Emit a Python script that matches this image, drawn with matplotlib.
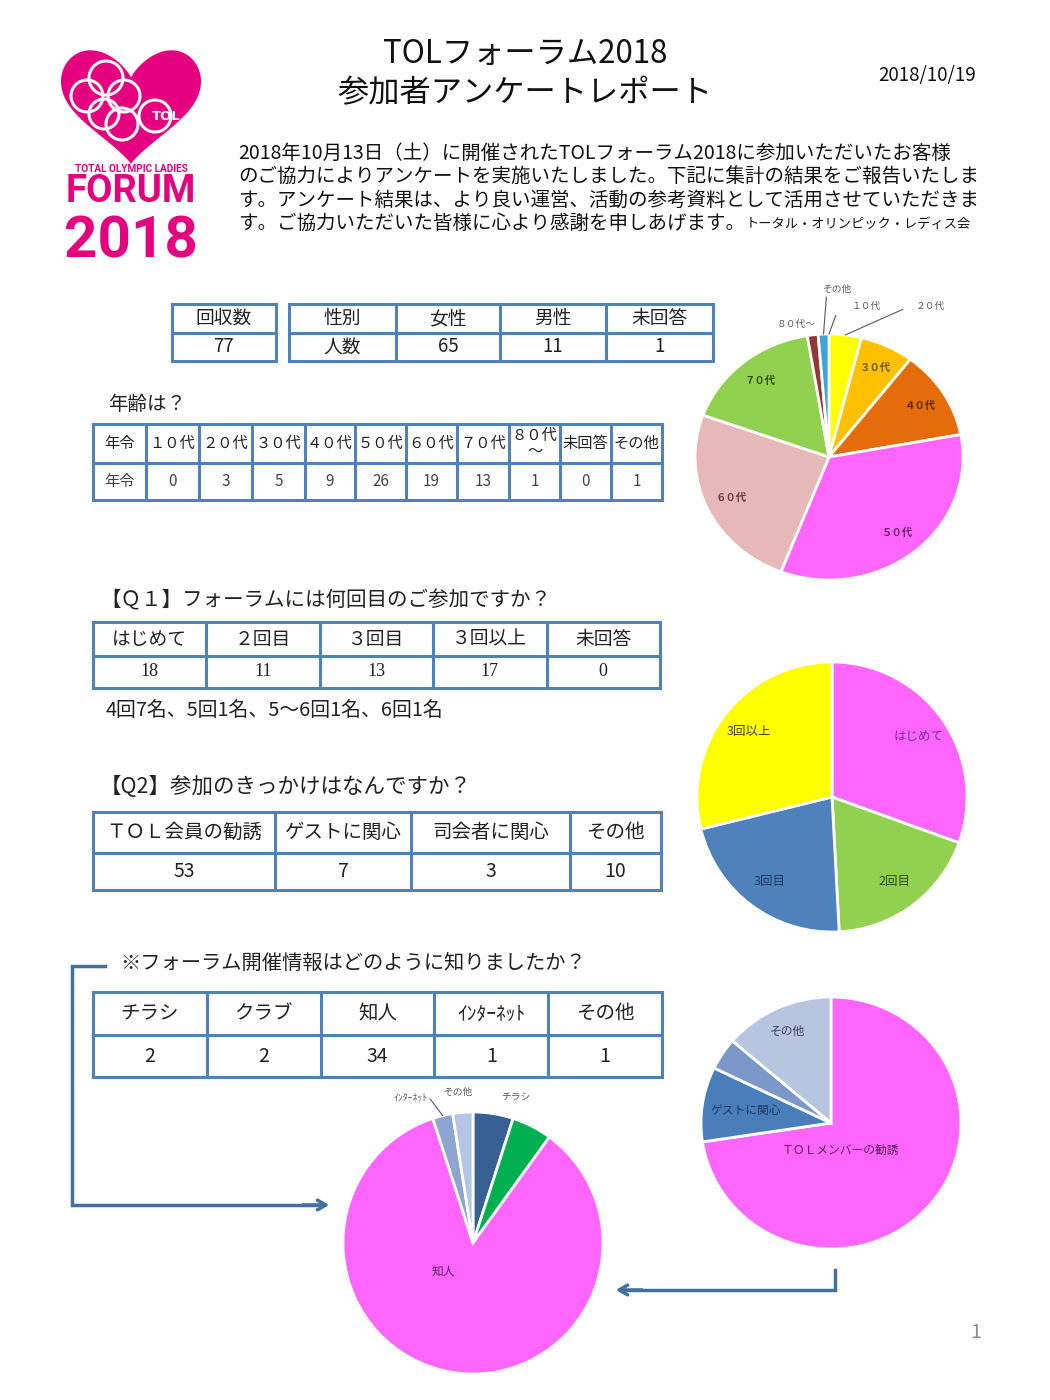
import numpy as np
import matplotlib
matplotlib.use('Agg')
import matplotlib.pyplot as plt
from matplotlib.patches import Polygon, Circle

plt.rcParams['font.family'] = ['Noto Sans CJK JP', 'DejaVu Sans']

# ---- data ----
total_label = '回収数'
total_responses = 77
gender_labels = ['性別', '女性', '男性', '未回答']
gender_counts = ['人数', 65, 11, 1]

age_labels = ['１０代', '２０代', '３０代', '４０代', '５０代', '６０代', '７０代', '８０代\n～', '未回答', 'その他']
age_counts = [0, 3, 5, 9, 26, 19, 13, 1, 0, 1]

q1_labels = ['はじめて', '２回目', '３回目', '３回以上', '未回答']
q1_counts = [18, 11, 13, 17, 0]
q1_note = '4回7名、5回1名、5～6回1名、6回1名'

q2_labels = ['ＴＯＬ会員の勧誘', 'ゲストに関心', '司会者に関心', 'その他']
q2_counts = [53, 7, 3, 10]

info_labels = ['チラシ', 'クラブ', '知人', 'ｲﾝﾀｰﾈｯﾄ', 'その他']
info_counts = [2, 2, 34, 1, 1]

W, H = 1050, 1400
BORDER = '#4F81BD'
ARROW = '#41719C'
PINK = '#E4007F'

fig = plt.figure(figsize=(10.5, 14), dpi=100)
ax = fig.add_axes([0, 0, 1, 1])
ax.set_xlim(0, W)
ax.set_ylim(H, 0)
ax.axis('off')


def draw_table(xs, ys, rows, sizes, families=None, colors=None):
    for x in xs:
        ax.plot([x, x], [ys[0], ys[-1]], color=BORDER, lw=2.2, solid_capstyle='projecting')
    for y in ys:
        ax.plot([xs[0], xs[-1]], [y, y], color=BORDER, lw=2.2, solid_capstyle='projecting')
    for r, row in enumerate(rows):
        fam = families[r] if families else None
        col = colors[r] if colors else '#222222'
        for c, val in enumerate(row):
            cx = (xs[c] + xs[c + 1]) / 2
            cy = (ys[r] + ys[r + 1]) / 2
            kw = {}
            if fam:
                kw['family'] = fam
            ax.text(cx, cy, str(val), ha='center', va='center', fontsize=sizes[r],
                    color=col, linespacing=0.9, **kw)


def pie_axes(cx, cy, rx, ry):
    a = fig.add_axes([(cx - rx) / W, 1 - (cy + ry) / H, 2 * rx / W, 2 * ry / H])
    return a


def finish_pie(a):
    a.set_aspect('auto')
    a.set_xlim(-1.0, 1.0)
    a.set_ylim(-1.0, 1.0)
    a.axis('off')


def mid_xy(w, r):
    t = np.deg2rad((w.theta1 + w.theta2) / 2)
    return r * np.cos(t), r * np.sin(t)


# ---- logo ----
t = np.linspace(0, 2 * np.pi, 400)
s = np.sin(t)
hx = 16 * np.sign(s) * np.abs(s) ** 2.3
hy = 13 * np.cos(t) - 5 * np.cos(2 * t) - 2 * np.cos(3 * t) - np.cos(4 * t)
px = 131 + hx * (70 / 16.0)
py = 50 + (12 - hy) * (114 / 29)
ax.add_patch(Polygon(np.column_stack([px, py]), closed=True, color=PINK, lw=0))
for (rx_, ry_, rr) in [(106, 78, 17), (87, 96, 16), (124, 96, 16), (104, 114, 15), (122, 124, 16), (155, 116, 16)]:
    ax.add_patch(Circle((rx_, ry_), rr, fill=False, ec='white', lw=2.2))
ax.text(166, 117, 'TOL', ha='center', va='center', color='white', fontsize=9.5,
        family='DejaVu Sans', weight='bold')
ax.text(131, 169, 'TOTAL OLYMPIC LADIES', ha='center', va='center', color=PINK,
        fontsize=7.2, family='Roboto', weight='bold')
ax.text(131, 191, 'FORUM', ha='center', va='center', color=PINK, fontsize=27.5,
        family='Roboto', weight='bold')
ax.text(131, 242, '2018', ha='center', va='center', color=PINK, fontsize=42,
        family='Roboto', weight='bold')

# ---- header ----
ax.text(525, 54, 'TOLフォーラム2018', ha='center', va='center', fontsize=22.5, color='#111111')
ax.text(525, 93, '参加者アンケートレポート', ha='center', va='center', fontsize=22.5, color='#111111')
ax.text(927, 75, '2018/10/19', ha='center', va='center', fontsize=13.5, color='#111111')

body = ['2018年10月13日（土）に開催されたTOLフォーラム2018に参加いただいたお客様',
        'のご協力によりアンケートを実施いたしました。下記に集計の結果をご報告いたしま',
        'す。アンケート結果は、より良い運営、活動の参考資料として活用させていただきま',
        'す。ご協力いただいた皆様に心より感謝を申しあげます。']
for i, line in enumerate(body):
    ax.text(238, 153 + i * 23.5, line, ha='left', va='center', fontsize=14.0, color='#111111')
ax.text(746, 224, 'トータル・オリンピック・レディス会', ha='left', va='center', fontsize=9.5, color='#111111')

# ---- gender / total tables ----
draw_table([172, 276], [304, 333, 361], [[total_label], [total_responses]], [13.5, 13.5])
draw_table([289, 396, 500, 606, 713], [304, 333, 361], [gender_labels, gender_counts], [13.5, 13.5])

# ---- age table ----
ax.text(108, 405, '年齢は？', ha='left', va='center', fontsize=14, color='#222222')
age_x = [93, 146, 199, 252, 305, 355, 406, 457, 509, 560, 611, 662]
draw_table(age_x, [424, 463, 500], [['年令'] + age_labels, ['年令'] + age_counts],
           [11, 11], colors=['#222222', '#444444'])

# ---- Q1 ----
ax.text(100, 600, '【Ｑ１】フォーラムには何回目のご参加ですか？', ha='left', va='center', fontsize=14.8, color='#222222')
q1_x = list(np.linspace(93, 660, 6))
draw_table(q1_x, [622, 656, 688], [q1_labels, q1_counts], [13.5, 13],
           families=[None, ['Liberation Serif', 'DejaVu Serif']])
ax.text(106, 710, q1_note, ha='left', va='center', fontsize=14.3, color='#222222')

# ---- Q2 ----
ax.text(100, 787, '【Q2】参加のきっかけはなんですか？', ha='left', va='center', fontsize=15.5, color='#222222')
draw_table([93, 275, 411, 570, 661], [812, 853, 890], [q2_labels, q2_counts], [14, 14])

# ---- info ----
ax.text(120, 963, '※フォーラム開催情報はどのように知りましたか？', ha='left', va='center', fontsize=14.6, color='#222222')
draw_table(list(np.linspace(93, 662, 6)), [992, 1035, 1077], [info_labels, info_counts], [14, 14])

# ---- arrows ----
ax.plot([105, 72, 72, 322], [966, 966, 1205, 1205], color=ARROW, lw=2.5, solid_joinstyle='miter')
ax.annotate('', xy=(332, 1205), xytext=(300, 1205),
            arrowprops=dict(arrowstyle='->,head_length=0.6,head_width=0.35', color=ARROW, lw=2.5))
ax.plot([835, 835, 625], [1270, 1290, 1290], color=ARROW, lw=2.5, solid_joinstyle='miter')
ax.annotate('', xy=(613, 1290), xytext=(645, 1290),
            arrowprops=dict(arrowstyle='->,head_length=0.6,head_width=0.35', color=ARROW, lw=2.5))

ax.text(976, 1333, '1', ha='center', va='center', fontsize=14, color='#8C8C8C')

# ---- age pie ----
a1 = pie_axes(829, 457, 134, 123)
age_idx = [0, 1, 2, 3, 4, 5, 6, 7, 9]
age_cols = ['#41A3D9', '#FFFF00', '#FFC000', '#E46C0A', '#FF66FF', '#E6B9B8', '#92D050', '#953735', '#41A3D9']
w1, _ = a1.pie([age_counts[i] for i in age_idx], colors=age_cols, startangle=90, counterclock=False,
               wedgeprops=dict(edgecolor='white', linewidth=2))
finish_pie(a1)
inner_cols = {2: '#6B5A00', 3: '#5A2A00', 4: '#6A1F6A', 5: '#6B3A3A', 6: '#2F4F10'}
for k, col in inner_cols.items():
    x, y = mid_xy(w1[k], 0.8)
    a1.text(x, y, age_labels[age_idx[k]], ha='center', va='center', fontsize=7.5, color=col, weight='bold')
# outside labels with leader lines
outs = [(0, (0.17, 1.23), (0.05, 1.15), '１０代'),
        (1, (0.65, 1.23), (0.55, 1.20), '２０代'),
        (8, (0.06, 1.37), (-0.02, 1.30), 'その他')]
for k, lab_xy, line_end, txt in outs:
    x0, y0 = mid_xy(w1[k], 1.0)
    a1.plot([x0, line_end[0]], [y0, line_end[1]], color='#595959', lw=0.8, clip_on=False)
    a1.text(lab_xy[0], lab_xy[1], txt, ha='left' if k != 8 else 'center', va='center',
            fontsize=7, color='#595959')
a1.text(-0.1, 1.08, '８０代～', ha='right', va='center', fontsize=7, color='#595959')

# ---- Q1 pie ----
a2 = pie_axes(832, 797, 135, 135)
w2, _ = a2.pie(q1_counts[:4], colors=['#FF66FF', '#92D050', '#4F81BD', '#FFFF00'], startangle=90,
               counterclock=False, wedgeprops=dict(edgecolor='white', linewidth=2))
finish_pie(a2)
q1_tcols = ['#7030A0', '#2F4F10', '#1F3864', '#3F3F00']
for k in range(4):
    x, y = mid_xy(w2[k], 0.78)
    a2.text(x, y, q1_labels[k].replace('２', '2').replace('３', '3'), ha='center', va='center',
            fontsize=9, color=q1_tcols[k])

# ---- Q2 pie ----
a3 = pie_axes(831, 1123, 130, 126)
w3, _ = a3.pie(q2_counts, colors=['#FF66FF', '#4A7EBB', '#7C98CB', '#B7C5E0'], startangle=90,
               counterclock=False, wedgeprops=dict(edgecolor='white', linewidth=2))
finish_pie(a3)
a3.text(0.07, -0.22, 'ＴＯＬメンバーの勧誘', ha='center', va='center', fontsize=8.5, color='#5A1F5A')
x, y = mid_xy(w3[1], 0.66)
a3.text(x, y, 'ゲストに関心', ha='center', va='center', fontsize=8.5, color='#1F3864')
x, y = mid_xy(w3[3], 0.8)
a3.text(x, y, 'その他', ha='center', va='center', fontsize=8.5, color='#404060')

# ---- info pie ----
a4 = pie_axes(473, 1243, 130, 131)
w4, _ = a4.pie(info_counts, colors=['#376092', '#00B050', '#FF66FF', '#8EA5CF', '#B4C6E7'], startangle=90,
               counterclock=False, wedgeprops=dict(edgecolor='white', linewidth=2))
finish_pie(a4)
a4.text(-0.23, -0.22, '知人', ha='center', va='center', fontsize=8.5, color='#5A1F5A')
a4.text(0.22, 1.12, 'チラシ', ha='left', va='center', fontsize=7, color='#595959')
a4.text(-0.12, 1.15, 'その他', ha='center', va='center', fontsize=7, color='#595959')
a4.text(-0.35, 1.11, 'ｲﾝﾀｰﾈｯﾄ', ha='right', va='center', fontsize=7, color='#595959')
x0, y0 = mid_xy(w4[3], 1.0)
a4.plot([x0, -0.33], [y0, 1.10], color='#595959', lw=0.8, clip_on=False)

fig.savefig('out.png', dpi=100, facecolor='white')
